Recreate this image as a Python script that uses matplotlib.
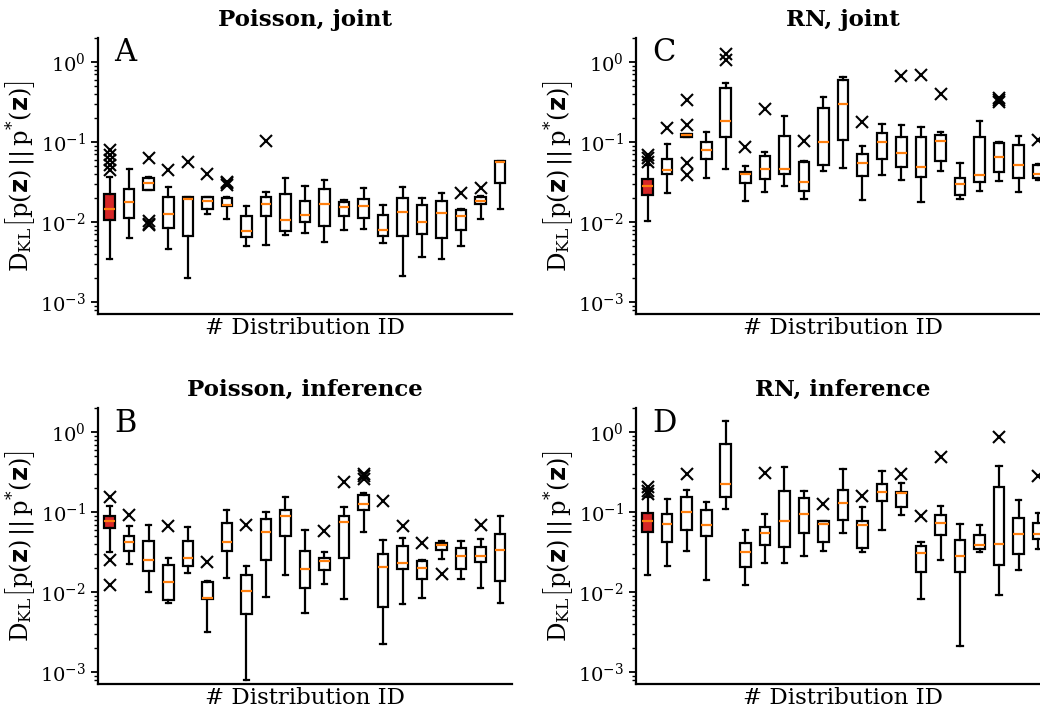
import matplotlib
matplotlib.use("Agg")
import matplotlib.pyplot as plt
import numpy as np

plt.rcParams['font.family'] = 'serif'
plt.rcParams['font.serif'] = ['DejaVu Serif']
plt.rcParams['mathtext.fontset'] = 'custom'
plt.rcParams['mathtext.rm'] = 'serif'
plt.rcParams['mathtext.bf'] = 'sans:bold'

# Poisson, joint
A_lo  = [0.00345, 0.0063, 0.0251, 0.00464, 0.00198, 0.0125, 0.0108, 0.00506, 0.0052, 0.0068, 0.00722,
         0.00562, 0.0080, 0.00826, 0.00546, 0.00213, 0.00365, 0.00341, 0.00496, 0.011, 0.0147]
A_q1  = [0.0106, 0.0111, 0.0251, 0.0084, 0.00668, 0.0147, 0.0158, 0.0065, 0.012, 0.0077, 0.0101,
         0.009, 0.0119, 0.0114, 0.00662, 0.00662, 0.00708, 0.00637, 0.0079, 0.0168, 0.0304]
A_med = [0.01454, 0.0178, 0.031, 0.0126, 0.0192, 0.0185, 0.0165, 0.00765, 0.0170, 0.0107, 0.0121,
         0.0168, 0.0154, 0.016, 0.0079, 0.0135, 0.0101, 0.0131, 0.0118, 0.0185, 0.057]
A_q3  = [0.0222, 0.0261, 0.0358, 0.0205, 0.0203, 0.0204, 0.020, 0.0119, 0.0204, 0.0224, 0.0183,
         0.0261, 0.0178, 0.0192, 0.0122, 0.0201, 0.0165, 0.0183, 0.0140, 0.0204, 0.058]
A_hi  = [0.0369, 0.046, 0.0362, 0.0271, 0.0207, 0.0207, 0.0206, 0.0158, 0.0237, 0.0351, 0.0282,
         0.0335, 0.0188, 0.0269, 0.0163, 0.0277, 0.0201, 0.0233, 0.0144, 0.0211, 0.0585]
A_fl  = [[0.0794, 0.0688, 0.0596, 0.0516, 0.0447], [], [0.0637, 0.0103, 0.0096, 0.0091], [0.0447],
         [0.0557], [0.0398], [0.0319, 0.0305, 0.0291], [], [0.104], [], [], [], [], [], [], [], [], [],
         [0.0228], [0.0269], []]

# RN, joint
C_lo  = [0.0103, 0.0228, 0.1166, 0.0358, 0.0455, 0.0185, 0.0239, 0.0282, 0.0192, 0.0438, 0.0469,
         0.0188, 0.0387, 0.0338, 0.0176, 0.0438, 0.0192, 0.0244, 0.0325, 0.0237, 0.034]
C_q1  = [0.0220, 0.0398, 0.1166, 0.0619, 0.1144, 0.031, 0.0341, 0.0402, 0.0244, 0.0516, 0.106,
         0.0376, 0.0607, 0.0487, 0.0369, 0.0573, 0.0216, 0.0313, 0.0426, 0.0358, 0.0351]
C_med = [0.0285, 0.0447, 0.1235, 0.0802, 0.185, 0.0398, 0.046, 0.046, 0.0319, 0.101, 0.2985,
         0.0552, 0.099, 0.0722, 0.0482, 0.104, 0.0299, 0.0391, 0.0656, 0.0511, 0.0402]
C_q3  = [0.0345, 0.0607, 0.128, 0.099, 0.473, 0.0426, 0.0675, 0.119, 0.0556, 0.266, 0.590,
         0.0708, 0.131, 0.1155, 0.1155, 0.122, 0.0351, 0.1144, 0.0966, 0.0926, 0.0516]
C_hi  = [0.0516, 0.0936, 0.128, 0.1346, 0.541, 0.0506, 0.0743, 0.211, 0.0579, 0.362, 0.643,
         0.0891, 0.168, 0.163, 0.154, 0.133, 0.0552, 0.185, 0.099, 0.12, 0.053]
C_fl  = [[0.0688, 0.0625, 0.0568], [0.148], [0.335, 0.163, 0.0552, 0.0387], [], [1.25, 1.06], [0.0858],
         [0.261], [], [0.103], [], [], [0.1795], [], [0.668], [0.688], [0.394], [], [],
         [0.351, 0.335, 0.319], [], [0.106]]

# Poisson, inference
B_lo  = [0.0316, 0.0228, 0.01, 0.00736, 0.0174, 0.00322, 0.0151, 0.00081, 0.00866, 0.0163, 0.00552,
         0.0128, 0.00826, 0.0568, 0.00226, 0.00722, 0.0084, 0.0261, 0.0147, 0.0113, 0.00736]
B_q1  = [0.063, 0.0332, 0.0183, 0.0081, 0.0211, 0.0083, 0.0332, 0.00536, 0.0256, 0.0506, 0.0113,
         0.0192, 0.0266, 0.107, 0.00656, 0.0196, 0.0147, 0.0341, 0.0196, 0.0237, 0.014]
B_med = [0.0787, 0.0422, 0.0251, 0.0133, 0.0269, 0.00858, 0.0426, 0.0103, 0.0568, 0.0891, 0.0196,
         0.0247, 0.0765, 0.126, 0.0205, 0.023, 0.02, 0.0391, 0.0282, 0.0282, 0.0338]
B_q3  = [0.0891, 0.0501, 0.0434, 0.0222, 0.0442, 0.0136, 0.0736, 0.0165, 0.0834, 0.108, 0.0332,
         0.0266, 0.0908, 0.166, 0.0304, 0.038, 0.0244, 0.0414, 0.0358, 0.0369, 0.0531]
B_hi  = [0.121, 0.0668, 0.0701, 0.0271, 0.065, 0.014, 0.108, 0.0216, 0.102, 0.154, 0.0596,
         0.0316, 0.118, 0.174, 0.0451, 0.0473, 0.0256, 0.0442, 0.0442, 0.0469, 0.0891]
B_fl  = [[0.154, 0.0256, 0.0125], [0.0936], [], [0.0668], [], [0.0239], [], [0.0701], [], [], [],
         [0.059], [0.239], [0.301, 0.282, 0.264], [0.14], [0.0681], [0.0414], [0.017], [], [0.0701], []]

# RN, inference
D_lo  = [0.0166, 0.0216, 0.0332, 0.0144, 0.109, 0.0124, 0.023, 0.023, 0.0282, 0.0332, 0.0552,
         0.0322, 0.0596, 0.0926, 0.00833, 0.0256, 0.00216, 0.0322, 0.00926, 0.0188, 0.0348]
D_q1  = [0.0562, 0.043, 0.0596, 0.0501, 0.157, 0.0205, 0.0394, 0.0365, 0.0552, 0.043, 0.0802,
         0.0358, 0.1386, 0.1166, 0.018, 0.0516, 0.018, 0.0345, 0.022, 0.0301, 0.0464]
D_med = [0.0772, 0.0715, 0.101, 0.0695, 0.228, 0.0322, 0.0552, 0.0772, 0.0944, 0.0708, 0.131,
         0.0701, 0.178, 0.174, 0.031, 0.0736, 0.0285, 0.0391, 0.0406, 0.0531, 0.0531]
D_q3  = [0.098, 0.0962, 0.154, 0.106, 0.708, 0.041, 0.0662, 0.183, 0.151, 0.0772, 0.188,
         0.078, 0.228, 0.181, 0.038, 0.0926, 0.0451, 0.0526, 0.205, 0.0858, 0.0729]
D_hi  = [0.154, 0.145, 0.188, 0.133, 1.372, 0.0607, 0.0962, 0.372, 0.185, 0.0787, 0.351,
         0.1155, 0.332, 0.235, 0.043, 0.12, 0.0715, 0.0695, 0.383, 0.143, 0.098]
D_fl  = [[0.205, 0.187, 0.1695], [], [0.304], [], [], [], [0.307], [], [], [0.126], [],
         [0.162], [], [0.304], [0.0908], [0.487], [], [], [0.875], [], [0.287]]


def make_stats(lo, q1, med, q3, hi, fl):
    return [dict(whislo=a, q1=b, med=c, q3=d, whishi=e, fliers=f)
            for a, b, c, d, e, f in zip(lo, q1, med, q3, hi, fl)]


panels = [
    ('Poisson, joint', 'A', make_stats(A_lo, A_q1, A_med, A_q3, A_hi, A_fl)),
    ('RN, joint', 'C', make_stats(C_lo, C_q1, C_med, C_q3, C_hi, C_fl)),
    ('Poisson, inference', 'B', make_stats(B_lo, B_q1, B_med, B_q3, B_hi, B_fl)),
    ('RN, inference', 'D', make_stats(D_lo, D_q1, D_med, D_q3, D_hi, D_fl)),
]

fig = plt.figure(figsize=(10.4, 7.13), dpi=100)
rects = [[0.094, 0.5596, 0.3984, 0.3871], [0.6113, 0.5596, 0.3984, 0.3871],
         [0.094, 0.0403, 0.3984, 0.3871], [0.6113, 0.0403, 0.3984, 0.3871]]

ylab = r'$\mathrm{D_{KL}}\left[\mathrm{p}(\mathbf{z})\,||\,\mathrm{p}^{*}(\mathbf{z})\right]$'

for rect, (title, letter, stats) in zip(rects, panels):
    ax = fig.add_axes(rect)
    bp = ax.bxp(stats, widths=0.54, patch_artist=True,
                boxprops=dict(facecolor='white', edgecolor='black', linewidth=1.6),
                whiskerprops=dict(color='black', linewidth=1.6),
                capprops=dict(color='black', linewidth=1.6),
                medianprops=dict(color='#ff7f0e', linewidth=1.6),
                flierprops=dict(marker='x', markeredgecolor='black', markersize=8.5,
                                markeredgewidth=1.5, linestyle='none'))
    bp['boxes'][0].set_facecolor('#d62728')

    ax.set_yscale('log')
    ax.set_ylim(7.1e-4, 2.0)
    ax.set_xlim(0.39, 21.61)
    ax.set_xticks([])
    ax.spines['top'].set_visible(False)
    ax.spines['right'].set_visible(False)
    ax.spines['left'].set_linewidth(1.6)
    ax.spines['bottom'].set_linewidth(1.6)
    ax.tick_params(axis='y', which='major', length=5, width=1.3, labelsize=14)
    ax.tick_params(axis='y', which='minor', length=3, width=1.0)

    ax.set_title(title, fontweight='bold', fontsize=16.5, pad=9)
    ax.set_xlabel('# Distribution ID', fontsize=16.5, labelpad=2)
    ax.set_ylabel(ylab, fontsize=17.5, labelpad=2)
    ax.text(0.04, 0.915, letter, transform=ax.transAxes, fontsize=22)

fig.savefig('out.png', dpi=100)
